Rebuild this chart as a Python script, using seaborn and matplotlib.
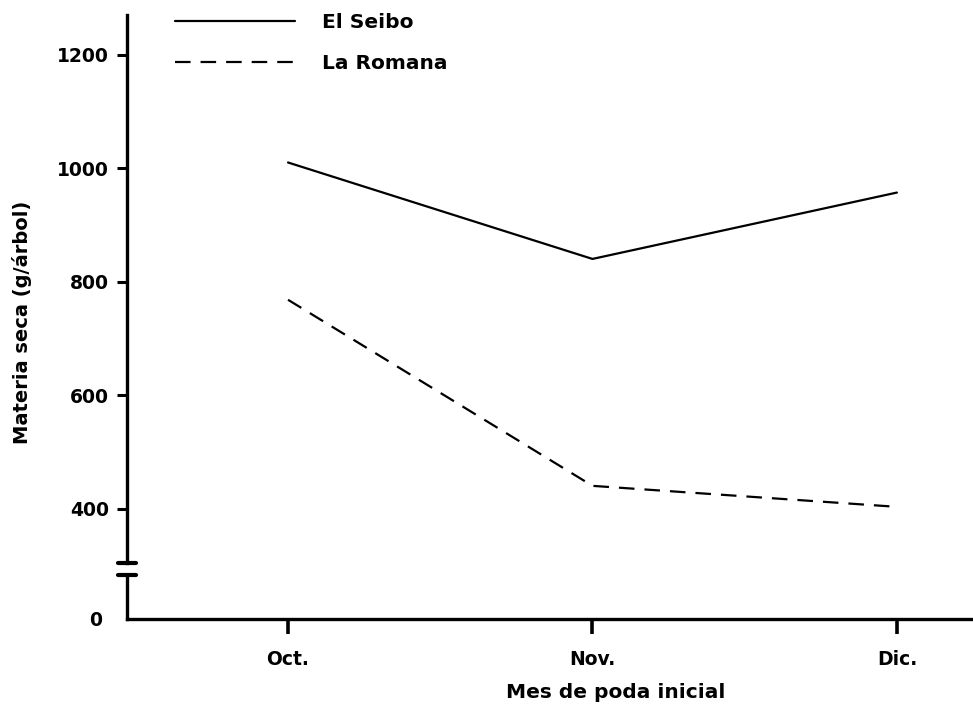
import matplotlib
matplotlib.use("Agg")
import matplotlib.pyplot as plt
import seaborn as sns
import pandas as pd

# ---- data ----
months = ["Oct.", "Nov.", "Dic."]
el_seibo = [1010, 840, 957]
la_romana = [768, 440, 403]
series_names = ["El Seibo", "La Romana"]
y_ticks = [400, 600, 800, 1000, 1200]

df = pd.DataFrame({
    "pos": list(range(len(months))) * 2,
    "valor": el_seibo + la_romana,
    "Sitio": [series_names[0]] * 3 + [series_names[1]] * 3,
})

sns.set_style("ticks")
plt.rcParams["font.family"] = ["DejaVu Sans"]
plt.rcParams["font.weight"] = "bold"
for k in ("text.color", "axes.labelcolor", "xtick.color", "ytick.color", "axes.edgecolor"):
    plt.rcParams[k] = "black"

fig = plt.figure(figsize=(9.73, 7.08), dpi=100)
W, H = 973.0, 708.0
left = 127 / W
width = (973 - 127) / W
ax = fig.add_axes([left, 1 - 563 / H, width, (563 - 15) / H])
axb = fig.add_axes([left, 1 - 619 / H, width, (619 - 575) / H])

sns.lineplot(data=df, x="pos", y="valor", style="Sitio", color="black",
             dashes={"El Seibo": "", "La Romana": (7, 4.5)}, linewidth=1.6,
             ax=ax, legend=True)

xlim = (-0.529, 2.25)
ax.set_xlim(*xlim)
ax.set_ylim(304, 1270)
axb.set_xlim(*xlim)
axb.set_ylim(0, 77)

lw = 2.4
for a in (ax, axb):
    for s in ("top", "right"):
        a.spines[s].set_visible(False)
    a.spines["left"].set_linewidth(lw)
    a.spines["left"].set_color("black")
    a.set_facecolor("none")
ax.spines["bottom"].set_visible(False)
ax.set_xticks([])
ax.set_xlabel("")
ax.set_yticks(y_ticks)
ax.set_yticklabels([str(v) for v in y_ticks], fontsize=13.5, fontweight="bold")
ax.tick_params(axis="y", length=7, width=2.2, pad=6, direction="out", colors="black")
ax.set_ylabel("Materia seca (g/árbol)", fontsize=14, fontweight="bold", color="black")
ax.yaxis.set_label_coords(-0.112, 0.44)

axb.spines["bottom"].set_linewidth(lw)
axb.spines["bottom"].set_color("black")
axb.set_yticks([0])
axb.set_yticklabels(["0"], fontsize=13.5, fontweight="bold")
axb.tick_params(axis="y", length=0, pad=18, colors="black")
axb.set_xticks(range(len(months)))
axb.set_xticklabels(months, fontsize=13.5, fontweight="bold")
axb.tick_params(axis="x", length=11, width=2.6, pad=11, direction="out", colors="black")
axb.set_xlabel("Mes de poda inicial", fontsize=14.5, fontweight="bold", color="black")
axb.xaxis.set_label_coords(0.578, -1.45)

# axis break caps
cap = 9 / 846
ax.plot([-cap, cap], [0, 0], transform=ax.transAxes, color="black",
        lw=3, clip_on=False, solid_capstyle="round")
axb.plot([-cap, cap], [1, 1], transform=axb.transAxes, color="black",
         lw=3, clip_on=False, solid_capstyle="round")

leg = ax.legend(loc="upper left", bbox_to_anchor=(0.057, 1.004), frameon=False,
                handlelength=5.97, handletextpad=1.3, labelspacing=1.1,
                borderpad=0, borderaxespad=0, fontsize=14.5, title=None)
for t in leg.get_texts():
    t.set_fontweight("bold")
    t.set_color("black")

fig.savefig("out.png", dpi=100)
